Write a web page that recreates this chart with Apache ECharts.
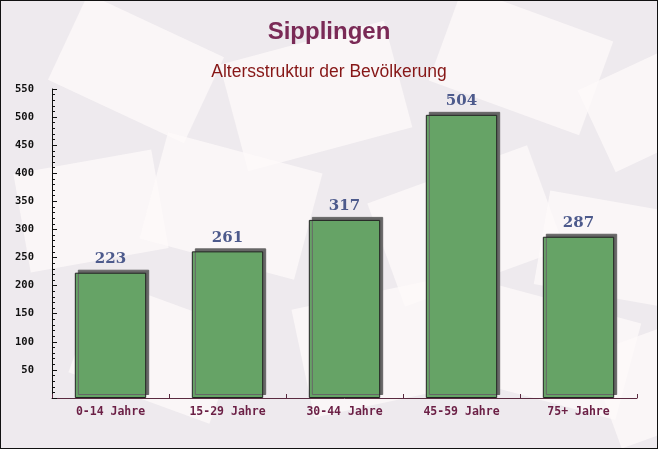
<!DOCTYPE html>
<html>
<head>
<meta charset="utf-8">
<script src="https://cdn.jsdelivr.net/npm/echarts@6/dist/echarts.min.js"></script>
<style>
html,body{margin:0;padding:0;background:#eeeaee;}
#c{width:656px;height:447px;border:1px solid #111;}
</style>
</head>
<body>
<div id="c"></div>
<script>
const categories = ['0-14 Jahre', '15-29 Jahre', '30-44 Jahre', '45-59 Jahre', '75+ Jahre'];
const values = [223, 261, 317, 504, 287];
const yMax = 550;
const yInterval = 50;

const chart = echarts.init(document.getElementById('c'));

const envelopes = [
  [60, 20, 150, 95, -25], [230, 40, 170, 110, 15], [440, 10, 160, 100, -20], [590, 60, 120, 90, 25],
  [20, 160, 140, 100, 10], [150, 150, 160, 110, -15], [380, 170, 170, 110, 20], [540, 200, 130, 95, -10],
  [80, 300, 150, 100, -20], [300, 290, 170, 110, 12], [470, 300, 160, 100, -15], [600, 330, 120, 100, 20]
];
const graphics = envelopes.map(e => ({
  type: 'rect', z: -10, silent: true,
  x: e[0], y: e[1], originX: e[2] / 2, originY: e[3] / 2, rotation: e[4] * Math.PI / 180,
  shape: { x: 0, y: 0, width: e[2], height: e[3] },
  style: { fill: 'rgba(253,250,249,0.75)' }
}));

chart.setOption({
  backgroundColor: '#eeeaee',
  animation: false,
  graphic: graphics,
  title: [
    { text: 'Sipplingen', left: 'center', top: 14,
      textStyle: { fontFamily: 'Liberation Sans', fontWeight: 'bold', fontSize: 24, color: '#7a2a56' } },
    { text: 'Altersstruktur der Bevölkerung', left: 'center', top: 57,
      textStyle: { fontFamily: 'Liberation Sans', fontWeight: 'normal', fontSize: 17.5, color: '#861616' } }
  ],
  grid: { left: 51, right: 20, top: 88, bottom: 50, containLabel: false },
  xAxis: {
    type: 'category', data: categories,
    axisLine: { lineStyle: { color: '#5a2a40', width: 1 } },
    axisTick: { show: true, inside: true, length: 4, lineStyle: { color: '#5a2a40' } },
    axisLabel: { margin: 8, fontFamily: 'DejaVu Sans Mono', fontWeight: 'bold', fontSize: 11.5, color: '#6b1f45' }
  },
  yAxis: {
    type: 'value', min: 0, max: yMax, interval: yInterval,
    axisLine: { show: true, lineStyle: { color: '#111', width: 1 } },
    axisTick: { show: true, inside: true, length: 5, lineStyle: { color: '#111' } },
    minorTick: { show: true, splitNumber: 5, length: 3, lineStyle: { color: '#111' } },
    splitLine: { show: false },
    axisLabel: { margin: 18, showMinLabel: false, fontFamily: 'DejaVu Sans Mono', fontWeight: 'bold', fontSize: 10.5, color: '#111' }
  },
  series: [{
    type: 'bar', data: values, barWidth: '61%',
    itemStyle: {
      color: '#66a366', borderColor: '#222', borderWidth: 1,
      shadowColor: '#666', shadowBlur: 0, shadowOffsetX: 3, shadowOffsetY: -3
    },
    label: {
      show: true, position: 'top', distance: 6,
      fontFamily: 'DejaVu Serif', fontWeight: 'bold', fontSize: 15, color: '#4d5a8c'
    }
  }]
});
</script>
</body>
</html>
